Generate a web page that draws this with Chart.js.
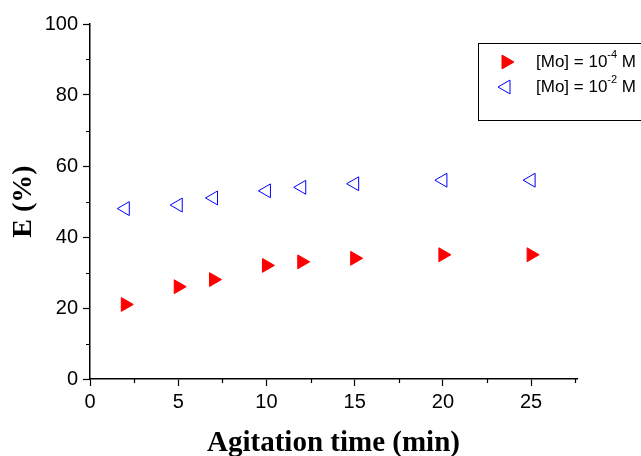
<!DOCTYPE html>
<html>
<head>
<meta charset="utf-8">
<script src="https://cdn.jsdelivr.net/npm/chart.js@4.4.1/dist/chart.umd.min.js"></script>
<style>
    html, body { margin: 0; padding: 0; background: #fff; }
    #wrap { width: 641px; height: 456px; position: relative; }
</style>
</head>
<body>
<div id="wrap"><canvas id="extractionChart"></canvas></div>
<script>
// Data
const agitationTimes = [2, 5, 7, 10, 12, 15, 20, 25];
const extractionMo4 = [21, 26, 28, 32, 33, 34, 35, 35];   // [Mo] = 10^-4 M
const extractionMo2 = [48, 49, 51, 53, 54, 55, 56, 56];   // [Mo] = 10^-2 M

const xTicks = [0, 5, 10, 15, 20, 25];
const yTicks = [0, 20, 40, 60, 80, 100];
const xMinorTicks = [2.5, 7.5, 12.5, 17.5, 22.5, 27.5];
const yMinorTicks = [10, 30, 50, 70, 90];

const legendLabels = [
    { base: '[Mo] = 10', sup: '-4', tail: ' M' },
    { base: '[Mo] = 10', sup: '-2', tail: ' M' }
];

// Minor ticks drawn outside the axes
const minorTicks = {
    id: 'minorTicks',
    afterDraw(chart) {
        const { ctx, scales: { x, y } } = chart;
        ctx.save();
        ctx.strokeStyle = '#000';
        ctx.lineWidth = 1.2;
        ctx.beginPath();
        xMinorTicks.forEach(v => {
            const px = Math.round(x.getPixelForValue(v)) + 0.5;
            ctx.moveTo(px, y.bottom);
            ctx.lineTo(px, y.bottom + 4);
        });
        yMinorTicks.forEach(v => {
            const py = Math.round(y.getPixelForValue(v)) + 0.5;
            ctx.moveTo(x.left, py);
            ctx.lineTo(x.left - 4, py);
        });
        ctx.stroke();
        ctx.restore();
    }
};

// Boxed legend with superscript exponents
const boxLegend = {
    id: 'boxLegend',
    afterDraw(chart) {
        const ctx = chart.ctx;
        ctx.save();
        ctx.strokeStyle = '#000';
        ctx.lineWidth = 1;
        ctx.strokeRect(478.5, 43.5, 200, 77);

        const rows = [62, 87];
        chart.data.datasets.forEach((ds, i) => {
            ctx.fillStyle = ds.backgroundColor;
            ctx.strokeStyle = ds.borderColor;
            Chart.helpers.drawPoint(ctx, {
                pointStyle: 'triangle',
                rotation: ds.rotation,
                radius: 8,
                borderWidth: 1
            }, 506, rows[i]);

            const lbl = legendLabels[i];
            ctx.fillStyle = '#000';
            ctx.textBaseline = 'middle';
            ctx.font = '17px "Liberation Sans", Arial, sans-serif';
            let tx = 536;
            ctx.fillText(lbl.base, tx, rows[i]);
            tx += ctx.measureText(lbl.base).width;
            ctx.font = '11px "Liberation Sans", Arial, sans-serif';
            ctx.fillText(lbl.sup, tx, rows[i] - 7);
            tx += ctx.measureText(lbl.sup).width;
            ctx.font = '17px "Liberation Sans", Arial, sans-serif';
            ctx.fillText(lbl.tail, tx, rows[i]);
        });
        ctx.restore();
    }
};

const ctx = document.getElementById('extractionChart').getContext('2d');

new Chart(ctx, {
    type: 'scatter',
    data: {
        datasets: [
            {
                label: '[Mo] = 10^-4 M',
                data: agitationTimes.map((t, i) => ({ x: t, y: extractionMo4[i] })),
                pointStyle: 'triangle',
                rotation: 90,
                pointRadius: 8,
                backgroundColor: '#ff0000',
                borderColor: '#ff0000',
                borderWidth: 1
            },
            {
                label: '[Mo] = 10^-2 M',
                data: agitationTimes.map((t, i) => ({ x: t, y: extractionMo2[i] })),
                pointStyle: 'triangle',
                rotation: -90,
                pointRadius: 8,
                backgroundColor: 'rgba(0,0,0,0)',
                borderColor: '#0000ff',
                borderWidth: 1
            }
        ]
    },
    options: {
        responsive: true,
        maintainAspectRatio: false,
        animation: false,
        layout: {
            padding: { left: 0, top: 24, right: 64, bottom: 0 }
        },
        plugins: {
            legend: { display: false },
            tooltip: { enabled: false }
        },
        scales: {
            x: {
                type: 'linear',
                min: 0,
                max: 27.6,
                afterFit: scale => { scale.height = 77; },
                afterBuildTicks: scale => {
                    scale.ticks = xTicks.map(v => ({ value: v }));
                },
                ticks: {
                    color: '#000',
                    padding: 4,
                    font: { family: '"Liberation Sans", Arial, sans-serif', size: 20 }
                },
                grid: {
                    drawOnChartArea: false,
                    drawTicks: true,
                    tickLength: 7,
                    tickColor: '#000',
                    tickWidth: 1.2
                },
                border: { color: '#000', width: 1.5 },
                title: {
                    display: true,
                    text: 'Agitation time (min)',
                    color: '#000',
                    padding: { top: 0, bottom: 0 },
                    font: { family: '"Liberation Serif", "Times New Roman", serif', size: 29, weight: 'bold', lineHeight: 0.85 }
                }
            },
            y: {
                type: 'linear',
                min: 0,
                max: 100,
                afterFit: scale => { scale.width = 90; },
                afterBuildTicks: scale => {
                    scale.ticks = yTicks.map(v => ({ value: v }));
                },
                ticks: {
                    color: '#000',
                    padding: 5,
                    font: { family: '"Liberation Sans", Arial, sans-serif', size: 20 }
                },
                grid: {
                    drawOnChartArea: false,
                    drawTicks: true,
                    tickLength: 7,
                    tickColor: '#000',
                    tickWidth: 1.2
                },
                border: { color: '#000', width: 1.5 },
                title: {
                    display: true,
                    text: 'E (%)',
                    color: '#000',
                    padding: { top: 7, bottom: 0 },
                    font: { family: '"Liberation Serif", "Times New Roman", serif', size: 28, weight: 'bold', lineHeight: 1.2 }
                }
            }
        }
    },
    plugins: [minorTicks, boxLegend]
});
</script>
</body>
</html>
